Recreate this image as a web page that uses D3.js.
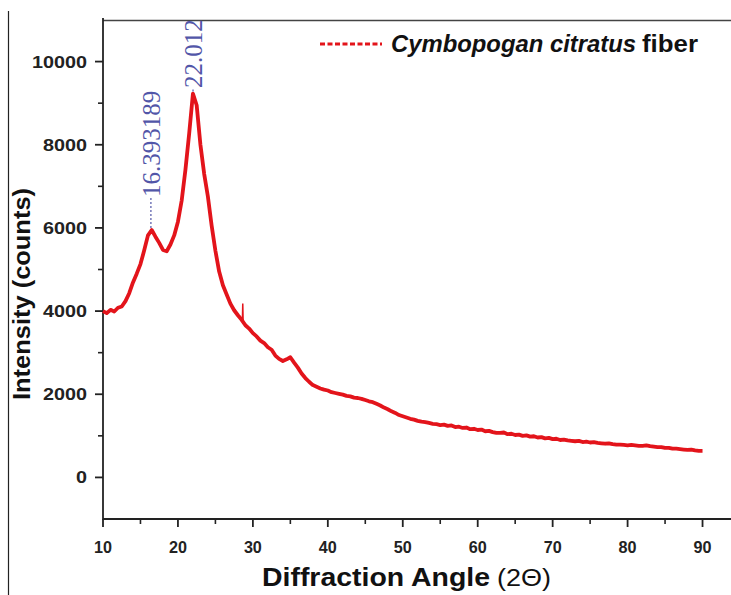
<!DOCTYPE html>
<html><head><meta charset="utf-8">
<script src="https://cdn.jsdelivr.net/npm/d3@7"></script>
<style>html,body{margin:0;padding:0;background:#fff;}svg{display:block;}</style>
</head><body>
<script>
// ---- data ----
const angleStart = 10, angleStep = 0.5;
const intensity = [
 4000,3950,4030,3990,4080,4110,4240,4430,4690,4900,
 5130,5460,5820,5950,5790,5640,5470,5440,5600,5820,
 6150,6660,7400,8270,9230,8950,8000,7300,6750,6050,
 5450,4950,4620,4400,4180,4020,3900,3790,3660,3580,
 3470,3390,3290,3230,3130,3070,2930,2850,2800,2840,
 2890,2760,2640,2500,2390,2300,2220,2180,2140,2110,
 2090,2050,2030,2010,1990,1960,1950,1920,1910,1890,
 1860,1830,1810,1770,1730,1680,1640,1590,1550,1500,
 1470,1440,1410,1390,1360,1340,1330,1310,1290,1280,
 1260,1270,1240,1250,1210,1220,1190,1200,1160,1170,
 1140,1150,1110,1120,1090,1070,1070,1080,1040,1050,
 1020,1030,1000,1010,980,990,960,970,940,950,
 920,930,900,910,890,880,870,880,850,860,
 840,850,830,820,810,820,800,790,790,780,
 770,780,770,760,760,770,750,740,730,730,
 710,710,690,690,680,670,660,670,650,640,
 640
];
const spikeAngles = [28.6, 28.65, 28.7];
const spikeValues = [3770, 4180, 3750];
const peakAngles = [16.393189, 22.012];
const peakValues = [5950, 9230];
const peakLabels = ["16.393189", "22.012"];
const xTicks = [10,20,30,40,50,60,70,80,90];
const yTicks = [0,2000,4000,6000,8000,10000];
const seriesName = ["Cymbopogan citratus", " fiber"];

const W = 731, H = 595;
const svg = d3.select("body").append("svg").attr("width", W).attr("height", H);

const x = d3.scaleLinear().domain([10, 95]).range([103, 740]);
const y = d3.scaleLinear().domain([-1000, 11000]).range([519, 20]);

// outer border line at left
svg.append("line").attr("x1", 8.5).attr("x2", 8.5).attr("y1", 11).attr("y2", H).attr("stroke", "#222").attr("stroke-width", 1.2);

// frame top
svg.append("line").attr("x1", 103).attr("x2", W).attr("y1", 20.5).attr("y2", 20.5).attr("stroke", "#444").attr("stroke-width", 1.6);

const fontSans = "'Liberation Sans', Arial, sans-serif";

const xMinor = d3.range(15, 95, 10);
const yMinor = d3.range(-1000, 11000, 2000).filter(v => v > -1000);

const gx = svg.append("g").attr("transform", "translate(0,519)");
gx.append("line").attr("x1", 103).attr("x2", W).attr("stroke", "#222").attr("stroke-width", 1.8);
gx.selectAll("line.maj").data(xTicks).join("line").attr("class","maj")
  .attr("x1", d => x(d)).attr("x2", d => x(d)).attr("y1", 0).attr("y2", 8).attr("stroke", "#222").attr("stroke-width", 1.8);
gx.selectAll("line.min").data(xMinor).join("line").attr("class","min")
  .attr("x1", d => x(d)).attr("x2", d => x(d)).attr("y1", 0).attr("y2", 5).attr("stroke", "#222").attr("stroke-width", 1.6);
gx.selectAll("text").data(xTicks).join("text")
  .attr("x", d => x(d)).attr("y", 34).attr("text-anchor", "middle")
  .attr("font-family", fontSans).attr("font-weight", "bold").attr("font-size", 17).attr("fill", "#222")
  .attr("textLength", d => String(d).length * 9).attr("lengthAdjust", "spacingAndGlyphs")
  .text(d => d);

const gy = svg.append("g").attr("transform", "translate(103,0)");
gy.append("line").attr("y1", 18).attr("y2", 520).attr("stroke", "#222").attr("stroke-width", 1.8);
gy.selectAll("line.maj").data(yTicks).join("line").attr("class","maj")
  .attr("y1", d => y(d)).attr("y2", d => y(d)).attr("x1", 0).attr("x2", -8).attr("stroke", "#222").attr("stroke-width", 1.8);
gy.selectAll("line.min").data(yMinor).join("line").attr("class","min")
  .attr("y1", d => y(d)).attr("y2", d => y(d)).attr("x1", 0).attr("x2", -5).attr("stroke", "#222").attr("stroke-width", 1.6);
gy.selectAll("text").data(yTicks).join("text")
  .attr("x", -16).attr("y", d => y(d) + 6).attr("text-anchor", "end")
  .attr("font-family", fontSans).attr("font-weight", "bold").attr("font-size", 17).attr("fill", "#222")
  .attr("textLength", d => String(d).length * 11).attr("lengthAdjust", "spacingAndGlyphs")
  .text(d => d);

// axis titles
const xt = svg.append("text").attr("x", 262).attr("y", 586)
  .attr("font-family", fontSans).attr("fill", "#111");
xt.append("tspan").attr("font-weight", "bold").attr("font-size", 26)
  .attr("textLength", 228).attr("lengthAdjust", "spacingAndGlyphs").text("Diffraction Angle");
xt.append("tspan").attr("font-size", 23).attr("dx", 7)
  .attr("textLength", 54).attr("lengthAdjust", "spacingAndGlyphs").text("(2Θ)");

svg.append("text").attr("transform", "translate(30,294) rotate(-90)").attr("text-anchor", "middle")
  .attr("font-family", fontSans).attr("font-weight", "bold").attr("font-size", 23).attr("fill", "#111")
  .attr("textLength", 212).attr("lengthAdjust", "spacingAndGlyphs")
  .text("Intensity (counts)");

// data line
const pts = intensity.map((v, i) => [angleStart + i * angleStep, v]);
const line = d3.line().x(d => x(d[0])).y(d => y(d[1]));
const red = "#e3141b";
svg.append("path").datum(pts).attr("d", line).attr("fill", "none").attr("stroke", red).attr("stroke-width", 3.8).attr("stroke-linejoin", "round");
svg.append("path").datum(spikeAngles.map((a, i) => [a, spikeValues[i]])).attr("d", line)
  .attr("fill", "none").attr("stroke", red).attr("stroke-width", 1.5);

// peak annotations
const blue = "#5256a8";
peakAngles.forEach((a, i) => {
  const labelBottom = i === 0 ? 197 : 88;
  svg.append("line").attr("x1", x(a)).attr("x2", x(a)).attr("y1", y(peakValues[i]) - 2).attr("y2", labelBottom)
    .attr("stroke", blue).attr("stroke-width", 1.2).attr("stroke-dasharray", "2,2");
  svg.append("text").attr("transform", `translate(${x(a) + 9},${labelBottom}) rotate(-90)`)
    .attr("font-family", "'Liberation Serif', 'Times New Roman', serif").attr("font-size", 25).attr("fill", blue)
    .text(peakLabels[i]);
});

// legend
svg.append("line").attr("x1", 320).attr("x2", 382).attr("y1", 44).attr("y2", 44)
  .attr("stroke", red).attr("stroke-width", 3).attr("stroke-dasharray", "5,2.5");
const lt = svg.append("text").attr("x", 391).attr("y", 52).attr("font-family", fontSans).attr("font-size", 23).attr("fill", "#111");
lt.append("tspan").attr("font-style", "italic").attr("font-weight", "bold")
  .attr("textLength", 245).attr("lengthAdjust", "spacingAndGlyphs").text(seriesName[0]);
lt.append("tspan").attr("font-weight", "bold").attr("dx", 6)
  .attr("textLength", 56).attr("lengthAdjust", "spacingAndGlyphs").text(seriesName[1].trim());
</script>
</body></html>
